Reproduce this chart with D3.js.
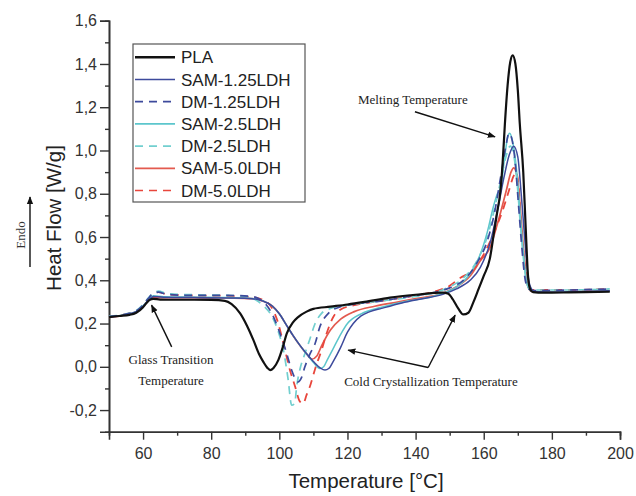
<!DOCTYPE html>
<html><head><meta charset="utf-8">
<script src="https://cdn.jsdelivr.net/npm/d3@7"></script>
<style>body{margin:0;background:#fff}svg{display:block}</style>
</head><body>
<svg id="c" width="636" height="496"></svg>
<script>
// ---- data (Temperature °C, Heat Flow W/g) ----
const seriesNames = ["PLA","SAM-1.25LDH","DM-1.25LDH","SAM-2.5LDH","DM-2.5LDH","SAM-5.0LDH","DM-5.0LDH"];
const PLA = [[50,.23],[53,.235],[56,.24],[58,.25],[60,.275],[61,.295],[62,.31],[63,.314],[65,.311],[70,.31],[75,.31],[80,.309],[84,.305],[86,.29],[88.5,.247],[90.5,.19],[92.4,.123],[94,.06],[95.3,.023],[96.5,-.005],[97.3,-.015],[98.3,-.005],[99.7,.031],[101,.09],[102.2,.154],[104,.205],[105.6,.231],[108,.255],[110,.268],[115,.278],[120,.288],[125,.3],[132.5,.32],[140,.333],[148,.343],[149.6,.338],[151,.31],[152.5,.27],[154,.242],[155.5,.25],[157,.3],[158.5,.36],[160,.42],[161.8,.5],[163,.62],[164,.72],[164.8,.8],[165.5,.93],[166.2,1.12],[167,1.3],[167.8,1.41],[168.5,1.44],[169.3,1.4],[170,1.28],[170.6,1.12],[171.6,.9],[172.3,.65],[173,.42],[173.6,.36],[174.5,.345],[176,.343],[180,.343],[185,.344],[190,.345],[197,.347]];
const SAM125 = [[50,.23],[53,.235],[56,.245],[58,.255],[60,.28],[61.5,.305],[63,.325],[66,.322],[75,.32],[85,.318],[92,.315],[95,.305],[98,.28],[100,.245],[102,.195],[104,.145],[106,.1],[108,.06],[110,.025],[112,-.005],[113.4,-.015],[114.5,-.008],[116,.03],[118,.09],[120,.16],[121.7,.2],[124,.235],[126.6,.255],[130,.27],[136,.295],[142,.315],[148,.335],[152,.36],[156,.4],[159,.46],[162,.58],[164,.72],[166,.88],[167.5,.98],[168.8,1.02],[170,.97],[171,.8],[172,.6],[173,.42],[174,.36],[175,.348],[180,.345],[190,.348],[197,.352]];
const DM125 = [[50,.232],[53,.237],[56,.247],[58,.258],[60,.285],[61.5,.315],[63,.34],[64.5,.345],[67,.335],[75,.33],[85,.33],[92,.325],[94,.315],[96,.29],[97.8,.247],[100.2,.154],[102,.07],[103.6,-.015],[105.5,-.07],[106.5,-.05],[107.5,0],[109,.06],[110.5,.108],[111.9,.185],[114.4,.247],[117.8,.277],[122,.29],[130,.305],[140,.33],[146,.345],[150,.365],[154,.4],[158,.48],[161,.58],[163,.7],[165,.88],[166.5,1.02],[167.4,1.08],[168.3,1.05],[169.2,.95],[170.2,.75],[171.2,.55],[172.2,.4],[173.2,.36],[175,.352],[185,.355],[197,.36]];
const SAM25 = [[50,.232],[53,.236],[56,.245],[58,.256],[60,.282],[61.5,.308],[63,.328],[66,.324],[75,.322],[85,.32],[92,.316],[95,.306],[98,.28],[100,.245],[102,.195],[104,.145],[106,.1],[108,.06],[110,.02],[111.9,-.008],[113,0],[114,.03],[116,.09],[118,.15],[120,.2],[124,.245],[130,.275],[138,.305],[145,.325],[148,.34],[152,.37],[156,.43],[159,.52],[161,.62],[163,.75],[164,.8],[165,.83],[166,.95],[167,1.06],[167.6,1.08],[168.5,1.04],[169.5,.93],[170.5,.75],[171.5,.55],[172.5,.4],[173.5,.355],[175,.345],[185,.346],[197,.35]];
const DM25 = [[50,.233],[53,.238],[56,.248],[58,.26],[60,.288],[61.5,.318],[63,.34],[64.5,.35],[67,.338],[75,.333],[85,.33],[90,.325],[93,.31],[95.5,.28],[97.3,.247],[99.7,.162],[101.2,.077],[102.6,-.06],[103.6,-.177],[104.5,-.17],[105.1,-.09],[106,-.015],[107.5,.06],[109,.13],[110.5,.2],[112.4,.247],[115,.27],[120,.285],[130,.305],[140,.325],[146,.345],[150,.37],[154,.41],[158,.49],[161,.6],[163,.72],[165,.86],[166.5,.97],[167.8,1.02],[168.8,.98],[169.8,.85],[170.8,.65],[171.8,.48],[172.8,.38],[174,.355],[185,.355],[197,.36]];
const SAM50 = [[50,.228],[53,.234],[56,.244],[58,.254],[60,.28],[61.5,.306],[63,.322],[66,.32],[75,.32],[85,.318],[92,.315],[95,.305],[98,.28],[100,.245],[102,.195],[104,.145],[106,.1],[108,.06],[109.5,.035],[111,.05],[112.5,.1],[115,.17],[118,.22],[122,.255],[128,.28],[135,.3],[140,.315],[148,.34],[152,.37],[156,.42],[159,.49],[161.8,.55],[164,.66],[166.7,.82],[168,.9],[168.8,.92],[169.8,.88],[170.8,.72],[171.8,.52],[172.8,.38],[173.8,.35],[175,.345],[185,.347],[197,.352]];
const DM50 = [[50,.232],[53,.237],[56,.247],[58,.257],[60,.284],[61.5,.312],[63,.335],[64.5,.345],[67,.335],[75,.33],[85,.328],[92,.322],[95,.31],[97.5,.28],[99.5,.21],[101.2,.108],[103.1,-.015],[104.6,-.09],[106,-.16],[107,-.17],[108,-.13],[109,-.09],[110.5,-.01],[112.4,.077],[114,.16],[116,.235],[118,.265],[122,.285],[130,.305],[140,.33],[146,.35],[150,.375],[153,.41],[157,.45],[160,.52],[163,.62],[165.5,.72],[167.5,.82],[168.7,.88],[169.5,.9],[170.2,.84],[171,.65],[172,.48],[173,.38],[174,.356],[185,.355],[197,.36]];
const seriesData = [PLA, SAM125, DM125, SAM25, DM25, SAM50, DM50];
const seriesColors = ["#111111","#3d4a9c","#3d4a9c","#5cc6cc","#72cfcf","#e35a4f","#e8463c"];
const seriesDash = [null,null,"8,6",null,"8,6",null,"8,6"];
const seriesWidth = [2.2,1.5,1.7,1.5,1.7,1.7,1.8];
const xTicks = [60,80,100,120,140,160,180,200];
const yTicks = [-0.2,0,0.2,0.4,0.6,0.8,1.0,1.2,1.4,1.6];

const svg = d3.select("#c");
const x = d3.scaleLinear().domain([50,200]).range([109,620]);
const y = d3.scaleLinear().domain([-0.3,1.6]).range([431.7,20.7]);
const fmt = v => d3.format(".1f")(v).replace(".",",").replace("−","-");

// axes
const xAxis = d3.axisBottom(x).tickValues(xTicks).tickSize(8).tickFormat(d3.format("d"));
const xMinor = d3.axisBottom(x).tickValues(d3.range(70,200,20)).tickSize(4).tickFormat("");
const yAxis = d3.axisLeft(y).tickValues(yTicks).tickSize(9).tickFormat(fmt);
const yMinor = d3.axisLeft(y).tickValues(d3.range(-0.1,1.6,0.2)).tickSize(4).tickFormat("");
function style(g){
  g.select(".domain").attr("stroke","#333").attr("stroke-width",1.6);
  g.selectAll(".tick line").attr("stroke","#333").attr("stroke-width",1.4);
  g.selectAll(".tick text").attr("fill","#333").attr("font-size",16).attr("font-family","'Liberation Sans',Arial,sans-serif");
}
svg.append("g").attr("transform","translate(0,431.7)").call(xMinor).call(style);
svg.append("g").attr("transform","translate(0,431.7)").call(xAxis).call(style).selectAll(".tick text").attr("dy","1.05em");
svg.append("g").attr("transform","translate(109,0)").call(yMinor).call(style);
svg.append("g").attr("transform","translate(109,0)").call(yAxis).call(style).selectAll(".tick text").attr("x",-12);

// axis titles
svg.append("text").attr("x",366).attr("y",488).attr("text-anchor","middle")
  .attr("font-family","'Liberation Sans',Arial,sans-serif").attr("font-size",20.5).attr("fill","#222").text("Temperature [°C]");
svg.append("text").attr("transform","translate(61,218) rotate(-90)").attr("text-anchor","middle")
  .attr("font-family","'Liberation Sans',Arial,sans-serif").attr("font-size",20.5).attr("fill","#222").text("Heat Flow [W/g]");
svg.append("text").attr("transform","translate(25,235) rotate(-90)").attr("text-anchor","middle")
  .attr("font-family","'Liberation Serif','Times New Roman',serif").attr("font-size",13).attr("fill","#333").text("Endo");
const defs = svg.append("defs");
defs.append("marker").attr("id","ah").attr("viewBox","0 0 10 10").attr("refX",9).attr("refY",5)
  .attr("markerWidth",8).attr("markerHeight",8).attr("markerUnits","userSpaceOnUse").attr("orient","auto")
  .append("path").attr("d","M0,1 L10,5 L0,9 Z").attr("fill","#111");
svg.append("line").attr("x1",30).attr("y1",267).attr("x2",30).attr("y2",197)
  .attr("stroke","#111").attr("stroke-width",1.4).attr("marker-end","url(#ah)");

// curves
const line = d3.line().x(d=>x(d[0])).y(d=>y(d[1])).curve(d3.curveMonotoneX);
const order = [5,6,3,4,1,2,0];
order.forEach(i=>{
  svg.append("path").datum(seriesData[i]).attr("d",line).attr("fill","none")
    .attr("stroke",seriesColors[i]).attr("stroke-width",seriesWidth[i])
    .attr("stroke-dasharray",seriesDash[i]).attr("stroke-linejoin","round");
});

// annotations (data coords)
const serif = "'Liberation Serif','Times New Roman',serif";
const notes = [
  {t:"Melting Temperature", T:139.2, v:1.214},
  {t:"Glass Transition", T:68.2, v:0.0125},
  {t:"Temperature", T:68.2, v:-0.084},
  {t:"Cold Crystallization Temperature", T:144.5, v:-0.089}
];
notes.forEach(n=>svg.append("text").attr("x",x(n.T)).attr("y",y(n.v)).attr("text-anchor","middle")
  .attr("font-family",serif).attr("font-size",13).attr("fill","#222").text(n.t));
const arrows = [
  [[139.8,1.179],[163.3,1.063]],
  [[68.4,0.092],[62.5,0.285]],
  [[143.7,-0.003],[120.2,0.077]],
  [[143.7,-0.003],[151.6,0.239]]
];
arrows.forEach(a=>svg.append("line").attr("x1",x(a[0][0])).attr("y1",y(a[0][1]))
  .attr("x2",x(a[1][0])).attr("y2",y(a[1][1])).attr("stroke","#111").attr("stroke-width",1.4)
  .attr("marker-end","url(#ah)"));

// legend
const lg = svg.append("g");
lg.append("rect").attr("x",133).attr("y",44).attr("width",172).attr("height",158)
  .attr("fill","#fff").attr("stroke","#555").attr("stroke-width",1.2);
seriesNames.forEach((n,i)=>{
  const yy = 57.3 + i*22.2;
  lg.append("line").attr("x1",135).attr("x2",175).attr("y1",yy).attr("y2",yy)
    .attr("stroke",seriesColors[i]).attr("stroke-width",i===0?2.6:1.7).attr("stroke-dasharray",seriesDash[i]);
  lg.append("text").attr("x",181).attr("y",yy+6).attr("font-family","'Liberation Sans',Arial,sans-serif")
    .attr("font-size",17).attr("fill","#222").text(n);
});
</script>
</body></html>
